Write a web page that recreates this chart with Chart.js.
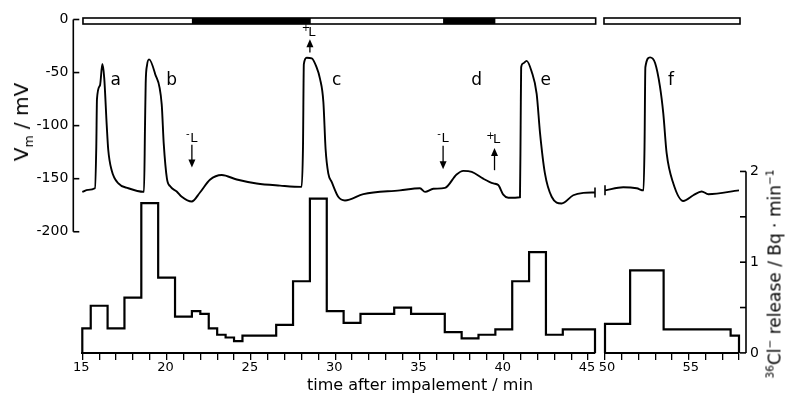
<!DOCTYPE html>
<html>
<head>
<meta charset="utf-8">
<script src="https://cdn.jsdelivr.net/npm/chart.js@4.4.1/dist/chart.umd.min.js"></script>
<style>
  body { margin: 0; background: #fff; }
  #wrap { position: relative; width: 788px; height: 398px; overflow: hidden; font-family: "DejaVu Sans", sans-serif; color: #000; }
  canvas { position: absolute; top: 0; }
  #chartLeft { left: 0; }
  #chartRight { left: 560px; }
  .lbl { position: absolute; white-space: nowrap; line-height: 1; }
  .rot { transform: translate(-50%, -50%) rotate(-90deg); }
  sub, sup { font-size: 62%; line-height: 0; }
</style>
</head>
<body>
<div id="wrap">
  <canvas id="chartLeft" width="640" height="398"></canvas>
  <canvas id="chartRight" width="228" height="398"></canvas>
  <div class="lbl rot" style="left:21px; top:122px; font-size:20px;">V<sub>m</sub> / mV</div>
  <div class="lbl" style="left:420px; top:385px; font-size:16px; transform:translate(-50%,-50%);">time after impalement / min</div>
  <div class="lbl rot" style="left:775px; top:274px; font-size:17px;"><sup>36</sup>Cl<sup>−</sup> release / Bq · min<sup>−1</sup></div>
</div>
<script>
// membrane potential trace, 15-45 min (time in min, Vm in mV)
const vmTimeA = [15.00, 15.34, 15.75, 15.83, 15.87, 16.05, 16.19, 16.30, 16.45, 16.54,
                 16.74, 17.14, 17.73, 18.66, 18.72, 18.76, 18.84, 18.96, 19.31, 19.71,
                 19.83, 20.02, 20.20, 20.60, 20.90, 21.49, 21.98, 22.57, 23.27, 24.16,
                 25.34, 26.73, 28.01, 28.09, 28.14, 28.31, 28.61, 28.87, 29.10, 29.30,
                 29.43, 29.59, 29.79, 30.18, 30.58, 31.67, 33.84, 35.03, 35.33, 35.82,
                 36.51, 37.20, 37.60, 38.10, 38.78, 39.38, 39.67, 39.97, 40.27, 40.96,
                 41.00, 41.03, 41.15, 41.35, 41.65, 41.95, 42.15, 42.44, 42.84, 43.43,
                 44.12, 44.72, 45.41]
const vmA = [-162.5, -160.5, -159, -120, -75, -62, -42, -55, -100, -123,
             -142, -154.5, -159, -162.4, -100, -60, -43, -37.6, -50.8, -80,
             -117, -150, -157, -162, -167, -171.5, -163, -151, -146.5, -150.8,
             -154.5, -156.5, -157.7, -120, -42, -36, -36.6, -44, -56, -78,
             -122, -145, -153, -167, -170.5, -164.5, -161, -159, -162.4, -159.5,
             -158.7, -146, -142.6, -143.5, -150, -154.5, -156, -165, -168, -167.5,
             -100, -45, -41.3, -39, -49, -70, -107, -145, -167, -173.4,
             -165.6, -163.4, -163]
// membrane potential trace, 50-58 min
const vmTimeB = [50.00, 51.09, 51.89, 52.30, 52.36, 52.41, 52.69, 52.99, 53.28, 53.48,
                 53.68, 54.08, 54.67, 55.27, 55.77, 56.17, 58.00]
const vmB = [-161, -158, -159, -161, -120, -45, -35.7, -41, -63, -88.5,
             -126, -154.5, -171, -165.6, -162, -164.6, -161]

// 36Cl- release: bin edges (min) and release (Bq/min)
const clEdgesA = [15, 15.5, 16.5, 17.5, 18.5, 19.5, 20.5, 21.5, 22, 22.5,
                  23, 23.5, 24, 24.5, 26.5, 27.5, 28.5, 29.5, 30.5, 31.5,
                  33.5, 34.5, 36.5, 37.5, 38.5, 39.5, 40.5, 41.5, 42.5, 43.5, 45.41]
const clA = [0.27, 0.52, 0.27, 0.61, 1.65, 0.83, 0.40, 0.46, 0.43, 0.27,
             0.20, 0.17, 0.13, 0.19, 0.31, 0.79, 1.70, 0.46, 0.33, 0.43,
             0.50, 0.43, 0.23, 0.16, 0.20, 0.26, 0.79, 1.11, 0.20, 0.26]
const clEdgesB = [50, 51.5, 53.5, 57.5, 58]
const clB = [0.32, 0.91, 0.26, 0.19]

// light / dark bar on top
const barA = [15.04, 45.45]
const barB = [49.94, 58.06]
const darkA = [[21.5, 28.55], [36.4, 39.5]]

const xLabelsA = [15, 20, 25, 30, 35, 40, 45]
const xLabelsB = [50, 55]
const vmTicks = [0, -50, -100, -150, -200]
const clTicks = [0, 0.5, 1, 1.5, 2]
const clLabels = [0, 1, 2]

const peakNames = ['a', 'b', 'c', 'd', 'e', 'f']
const peakTimes = [16.98, 20.3, 30.09, 38.39, 42.49, 53.94]
const lightTimes = [21.5, 28.5, 36.4, 39.45]
const lightSigns = ['-', '+', '-', '+']
// where each light arrow sits, in mV (label, shaft start, arrow tip)
const arrowLayout = [[-112, -118, -139.5], [-12.5, -31, -18.5], [-112, -119, -141], [-113.5, -142, -121]]

const FONT = '"DejaVu Sans", sans-serif'

function histPoints(edges, vals) {
    let pts = [{x: edges[0], y: 0}]
    vals.forEach((v, i) => {
        pts.push({x: edges[i], y: v})
        pts.push({x: edges[i + 1], y: v})
    })
    pts.push({x: edges[edges.length - 1], y: 0})
    return pts
}

const figureExtras = {
    id: 'figureExtras',
    afterDraw(chart, args, opts) {
        const ctx = chart.ctx
        const area = chart.chartArea
        const x = chart.scales.x, vm = chart.scales.vm, cl = chart.scales.cl
        ctx.save()
        ctx.strokeStyle = '#000'
        ctx.fillStyle = '#000'

        // stimulus bar
        const by = vm.getPixelForValue(0) - 1.5, bh = 6
        const bx0 = x.getPixelForValue(opts.bar[0]), bx1 = x.getPixelForValue(opts.bar[1])
        ctx.fillStyle = '#fff'
        ctx.fillRect(bx0, by, bx1 - bx0, bh)
        ctx.fillStyle = '#000'
        opts.dark.forEach(([a, b]) => {
            const p = x.getPixelForValue(a)
            ctx.fillRect(p, by, x.getPixelForValue(b) - p, bh)
        })
        ctx.lineWidth = 1.6
        ctx.strokeRect(bx0, by, bx1 - bx0, bh)

        // Vm axis (left)
        if (opts.vmAxis) {
            const ax = area.left - 9
            ctx.lineWidth = 1.6
            ctx.beginPath()
            ctx.moveTo(ax, vm.getPixelForValue(vmTicks[0]))
            ctx.lineTo(ax, vm.getPixelForValue(vmTicks[vmTicks.length - 1]))
            ctx.stroke()
            ctx.font = '14px ' + FONT
            ctx.textAlign = 'right'
            ctx.textBaseline = 'middle'
            vmTicks.forEach(v => {
                const py = vm.getPixelForValue(v)
                ctx.beginPath()
                ctx.moveTo(ax, py)
                ctx.lineTo(ax + 6, py)
                ctx.stroke()
                ctx.fillText(String(v), ax - 5, py)
            })
        }

        // Cl release axis (right)
        if (opts.clAxis) {
            const ax = area.right + 7
            ctx.lineWidth = 1.6
            ctx.beginPath()
            ctx.moveTo(ax, cl.getPixelForValue(clTicks[0]))
            ctx.lineTo(ax, cl.getPixelForValue(clTicks[clTicks.length - 1]))
            ctx.stroke()
            ctx.font = '14px ' + FONT
            ctx.textAlign = 'left'
            ctx.textBaseline = 'middle'
            clTicks.forEach(v => {
                const py = cl.getPixelForValue(v)
                ctx.beginPath()
                ctx.moveTo(ax, py)
                ctx.lineTo(ax - 6, py)
                ctx.stroke()
                if (clLabels.includes(v)) ctx.fillText(String(v), ax + 4, py)
            })
        }

        // axis break mark on the trace
        if (opts.breakMark) {
            const px = x.getPixelForValue(opts.breakMark.t), py = vm.getPixelForValue(opts.breakMark.v)
            ctx.lineWidth = 1.6
            ctx.beginPath()
            ctx.moveTo(px, py - 5)
            ctx.lineTo(px, py + 5)
            ctx.stroke()
        }

        // peak letters
        ctx.font = '17px ' + FONT
        ctx.textAlign = 'center'
        ctx.textBaseline = 'middle'
        peakNames.forEach((n, i) => {
            const t = peakTimes[i]
            if (t < x.min || t > x.max) return
            ctx.fillText(n, x.getPixelForValue(t), vm.getPixelForValue(-57.5))
        })

        // light on / off arrows
        lightTimes.forEach((t, i) => {
            if (t < x.min || t > x.max) return
            const [lab, from, tip] = arrowLayout[i]
            const px = x.getPixelForValue(t)
            const y0 = vm.getPixelForValue(from), y1 = vm.getPixelForValue(tip)
            const dir = y1 > y0 ? 1 : -1
            ctx.lineWidth = 1.3
            ctx.beginPath()
            ctx.moveTo(px, y0)
            ctx.lineTo(px, y1 - dir * 4)
            ctx.stroke()
            ctx.beginPath()
            ctx.moveTo(px, y1)
            ctx.lineTo(px - 3.5, y1 - dir * 8)
            ctx.lineTo(px + 3.5, y1 - dir * 8)
            ctx.closePath()
            ctx.fill()
            const ly = vm.getPixelForValue(lab)
            ctx.font = '13px ' + FONT
            ctx.fillText('L', px + 2, ly)
            ctx.font = '10px ' + FONT
            ctx.fillText(lightSigns[i], px - 4, ly - 4)
        })
        ctx.restore()
    }
}

function xAxis(min, max, labels, shift) {
    return {
        type: 'linear', min: min, max: max, position: 'bottom',
        ticks: {
            stepSize: 1, includeBounds: false, autoSkip: false, maxRotation: 0, padding: 0,
            labelOffset: shift, color: '#000', font: {family: FONT, size: 13},
            callback: v => labels.includes(v) ? String(v) : ''
        },
        grid: {drawOnChartArea: false, drawTicks: true, tickLength: 7, color: '#000', lineWidth: 1.3},
        border: {display: true, color: '#000', width: 2}
    }
}

const VM_MIN = -314.15, CL_MAX = 3.675

function makePanel(canvasId, pad, xMin, xMax, labels, shift, edges, vals, times, vms, extras) {
    return new Chart(document.getElementById(canvasId), {
        type: 'line',
        data: {
            datasets: [
                {
                    data: histPoints(edges, vals), yAxisID: 'cl',
                    borderColor: '#000', borderWidth: 2.2, pointRadius: 0, tension: 0,
                    borderJoinStyle: 'miter', fill: false, clip: false
                },
                {
                    data: times.map((t, i) => ({x: t, y: vms[i]})), yAxisID: 'vm',
                    borderColor: '#000', borderWidth: 1.9, pointRadius: 0,
                    cubicInterpolationMode: 'monotone', fill: false, clip: false
                }
            ]
        },
        options: {
            responsive: false,
            animation: false,
            events: [],
            layout: {padding: pad},
            scales: {
                x: xAxis(xMin, xMax, labels, shift),
                vm: {type: 'linear', display: false, min: VM_MIN, max: 0},
                cl: {type: 'linear', display: false, min: 0, max: CL_MAX}
            },
            plugins: {
                legend: {display: false},
                tooltip: {enabled: false},
                figureExtras: extras
            }
        },
        plugins: [figureExtras]
    })
}

makePanel('chartLeft', {left: 82.3, right: 45, top: 19.5, bottom: 22.5},
    15, 45.41, xLabelsA, -1, clEdgesA, clA, vmTimeA, vmA,
    {bar: barA, dark: darkA, vmAxis: true, clAxis: false,
        breakMark: {t: vmTimeA[vmTimeA.length - 1], v: vmA[vmA.length - 1]}})

makePanel('chartRight', {left: 45, right: 49, top: 19.5, bottom: 22.5},
    50, 58, xLabelsB, 2, clEdgesB, clB, vmTimeB, vmB,
    {bar: barB, dark: [], vmAxis: false, clAxis: true,
        breakMark: {t: vmTimeB[0], v: vmB[0]}})
</script>
</body>
</html>
